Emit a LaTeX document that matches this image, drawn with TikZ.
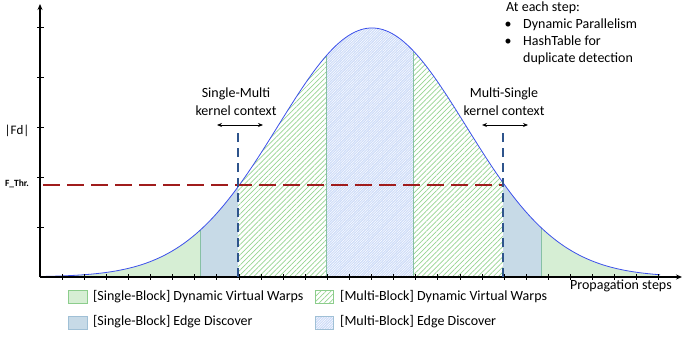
\documentclass[tikz,border=0pt]{standalone}
\usepackage{fontspec}
\setmainfont{Carlito}
\usetikzlibrary{patterns.meta,arrows.meta}
\definecolor{sgreen}{RGB}{214,238,212}
\definecolor{sgreenbd}{RGB}{140,205,140}
\definecolor{hgreen}{RGB}{150,212,145}
\definecolor{sblue}{RGB}{199,218,231}
\definecolor{sbluebd}{RGB}{160,192,214}
\definecolor{mbluebg}{RGB}{204,219,248}
\definecolor{bndgreen}{RGB}{135,192,165}
\definecolor{curveblue}{RGB}{60,80,235}
\definecolor{kblue}{RGB}{46,84,140}
\definecolor{tred}{RGB}{160,28,28}
\begin{document}
\begin{tikzpicture}[x=1pt,y=-1pt,
  declare function={g(\x)=277-249*exp(-0.5*((\x-372)/94)^2);},
  lbl/.style={font=\fontsize{14}{17}\selectfont, inner sep=0pt},
  axis/.style={line width=1.1pt, -{Stealth[length=6pt,width=5pt]}},
  tick/.style={line width=0.7pt},
  bnd/.style={line width=0.7pt, bndgreen},
  kdash/.style={line width=2.6pt, kblue, dash pattern=on 9pt off 6pt},
  tdash/.style={line width=2.6pt, tred, dash pattern=on 17pt off 7pt},
  darrow/.style={line width=0.9pt, {Stealth[length=5pt,width=4pt]}-{Stealth[length=5pt,width=4pt]}},
  ghatch/.style={pattern={Lines[angle=45,distance=3.6pt,line width=0.7pt]}, pattern color=hgreen},
  bhatch/.style={preaction={fill=mbluebg}, pattern={Lines[angle=45,distance=1.8pt,line width=0.5pt]}, pattern color=white},
]
\useasboundingbox (0,0) rectangle (683,337);

% regions
\fill[sgreen] (40,277) -- plot[domain=40:200,samples=60] (\x,{g(\x)}) -- (200,277) -- cycle;
\fill[sblue] (200,277) -- plot[domain=200:238,samples=20] (\x,{g(\x)}) -- (238,277) -- cycle;
\path[ghatch] (238,277) -- plot[domain=238:326,samples=40] (\x,{g(\x)}) -- (326,277) -- cycle;
\path[bhatch] (326,277) -- plot[domain=326:413,samples=40] (\x,{g(\x)}) -- (413,277) -- cycle;
\path[ghatch] (413,277) -- plot[domain=413:503,samples=40] (\x,{g(\x)}) -- (503,277) -- cycle;
\fill[sblue] (503,277) -- plot[domain=503:541,samples=20] (\x,{g(\x)}) -- (541,277) -- cycle;
\fill[sgreen] (541,277) -- plot[domain=541:660,samples=60] (\x,{g(\x)}) -- (660,277) -- cycle;

% boundaries
\foreach \b in {200,326,413,541} \draw[bnd] (\b,277) -- (\b,{g(\b)});

% curve
\draw[curveblue, line width=0.8pt] plot[domain=40:660,samples=200] (\x,{g(\x)});

% axes
\coordinate (o) at (40,277);
\coordinate (ytop) at (40,4);
\coordinate (xend) at (682,277);
\draw[axis] (o) -- (ytop);
\draw[axis] (o) -- (xend);
\foreach \k in {1,...,28} \draw[tick] ({40+22.1*\k},274) -- ({40+22.1*\k},280);
\foreach \yy in {27,77,127,177,227} \draw[tick] (37,\yy) -- (43.5,\yy);

% threshold
\coordinate (t0) at (43,185);
\coordinate (t1) at (503,185);
\draw[tdash] (t0) -- (t1);

% kernel context dashed lines
\coordinate (l0) at (238,277);
\coordinate (l1) at (238,130);
\coordinate (r0) at (503,277);
\coordinate (r1) at (503,130);
\draw[kdash] (l0) -- (l1);
\draw[kdash] (r0) -- (r1);

% double arrows
\coordinate (la) at (217,125);
\coordinate (lb) at (263,125);
\coordinate (ra) at (482,125);
\coordinate (rb) at (528,125);
\draw[darrow] (la) -- (lb);
\draw[darrow] (ra) -- (rb);

% labels
\node[lbl, anchor=base] (smA) at (236,98) {Single-Multi};
\node[lbl, anchor=base] (smB) at (236,115) {kernel context};
\node[lbl, anchor=base] (msA) at (504,98) {Multi-Single};
\node[lbl, anchor=base] (msB) at (504,115) {kernel context};

\node[lbl, font=\fontsize{13}{15}\selectfont, anchor=center] (fd) at (17,131) {|Fd|};
\node[inner sep=0pt, font=\fontsize{9.5}{11}\selectfont\bfseries, anchor=center] (fthr) at (17,184) {F\_Thr.};

\node[lbl, anchor=base west] (step) at (506,12) {At each step:};
\node[lbl, anchor=base] (b1) at (508,29) {•};
\node[lbl, anchor=base west] (s1) at (523,29) {Dynamic Parallelism};
\node[lbl, anchor=base] (b2) at (508,46) {•};
\node[lbl, anchor=base west] (s2) at (523,46) {HashTable for};
\node[lbl, anchor=base west] (s3) at (523,63) {duplicate detection};

\node[lbl, anchor=base west] (prop) at (570,289) {Propagation steps};

% legend
\filldraw[fill=sgreen, draw=sgreenbd, line width=0.6pt] (68,290) rectangle (87,303);
\node[lbl, anchor=base west] (lg1) at (93,300) {[Single-Block] Dynamic Virtual Warps};
\filldraw[fill=sblue, draw=sbluebd, line width=0.6pt] (68,316) rectangle (87,329);
\node[lbl, anchor=base west] (lg2) at (93,325) {[Single-Block] Edge Discover};
\path[ghatch] (315,290) rectangle (333,303);
\draw[sgreenbd, line width=0.6pt] (315,290) rectangle (333,303);
\node[lbl, anchor=base west] (lg3) at (340,300) {[Multi-Block] Dynamic Virtual Warps};
\path[bhatch] (315,316) rectangle (333,329);
\draw[sbluebd, line width=0.6pt] (315,316) rectangle (333,329);
\node[lbl, anchor=base west] (lg4) at (340,325) {[Multi-Block] Edge Discover};
\end{tikzpicture}
\end{document}
